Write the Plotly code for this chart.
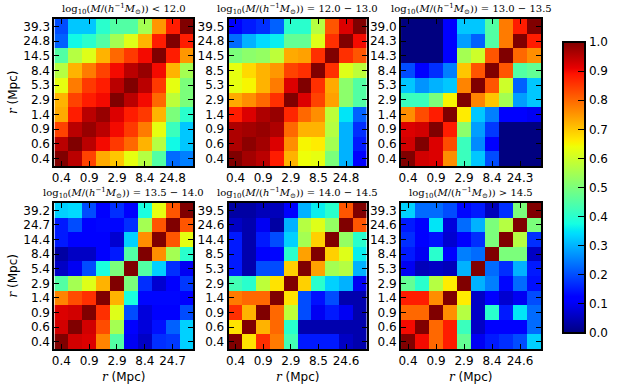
import plotly.graph_objects as go
from plotly.subplots import make_subplots

# Correlation matrices, row 0 = smallest r (bottom), column 0 = smallest r (left)
corr_lt120 = [
    [1.00, 0.95, 0.84, 0.73, 0.70, 0.63, 0.57, 0.45, 0.23, 0.25],
    [0.95, 1.00, 0.95, 0.90, 0.85, 0.80, 0.72, 0.57, 0.37, 0.32],
    [0.84, 0.95, 0.98, 0.95, 0.90, 0.85, 0.78, 0.63, 0.42, 0.32],
    [0.73, 0.88, 0.95, 0.98, 0.92, 0.88, 0.85, 0.72, 0.50, 0.40],
    [0.72, 0.84, 0.88, 0.90, 1.00, 0.95, 0.90, 0.80, 0.58, 0.50],
    [0.63, 0.78, 0.85, 0.88, 0.95, 1.00, 0.95, 0.85, 0.63, 0.50],
    [0.57, 0.72, 0.78, 0.84, 0.90, 0.95, 0.98, 0.90, 0.72, 0.55],
    [0.45, 0.57, 0.62, 0.72, 0.80, 0.85, 0.90, 1.00, 0.88, 0.75],
    [0.22, 0.37, 0.40, 0.45, 0.55, 0.62, 0.72, 0.88, 1.00, 0.88],
    [0.20, 0.32, 0.32, 0.40, 0.45, 0.45, 0.55, 0.75, 0.88, 1.00],
]
corr_120_130 = [
    [1.00, 0.97, 0.95, 0.88, 0.72, 0.64, 0.63, 0.50, 0.30, 0.12],
    [0.96, 0.99, 0.97, 0.92, 0.76, 0.65, 0.66, 0.55, 0.30, 0.15],
    [0.96, 0.97, 0.98, 0.96, 0.80, 0.72, 0.72, 0.57, 0.30, 0.17],
    [0.88, 0.92, 0.96, 0.98, 0.87, 0.80, 0.76, 0.58, 0.35, 0.22],
    [0.73, 0.76, 0.80, 0.86, 1.00, 0.92, 0.84, 0.74, 0.52, 0.45],
    [0.63, 0.65, 0.72, 0.78, 0.92, 1.00, 0.86, 0.73, 0.52, 0.45],
    [0.63, 0.68, 0.72, 0.75, 0.84, 0.86, 1.00, 0.86, 0.62, 0.58],
    [0.50, 0.52, 0.53, 0.58, 0.73, 0.74, 0.86, 1.00, 0.86, 0.82],
    [0.23, 0.30, 0.34, 0.36, 0.47, 0.47, 0.62, 0.86, 1.00, 0.90],
    [0.12, 0.15, 0.17, 0.22, 0.40, 0.40, 0.57, 0.82, 0.92, 1.00],
]
corr_130_135 = [
    [1.00, 0.93, 0.92, 0.76, 0.42, 0.32, 0.20, 0.00, 0.00, 0.00],
    [0.93, 1.00, 0.92, 0.83, 0.42, 0.26, 0.12, 0.00, 0.00, 0.00],
    [0.92, 0.93, 1.00, 0.88, 0.52, 0.28, 0.18, 0.00, 0.00, 0.00],
    [0.76, 0.83, 0.88, 1.00, 0.66, 0.32, 0.25, 0.12, 0.12, 0.10],
    [0.42, 0.42, 0.50, 0.65, 1.00, 0.77, 0.70, 0.55, 0.28, 0.32],
    [0.32, 0.27, 0.30, 0.32, 0.77, 1.00, 0.82, 0.60, 0.22, 0.32],
    [0.20, 0.12, 0.17, 0.25, 0.70, 0.82, 1.00, 0.82, 0.45, 0.47],
    [0.00, 0.00, 0.00, 0.12, 0.55, 0.60, 0.82, 1.00, 0.80, 0.76],
    [0.00, 0.00, 0.00, 0.12, 0.28, 0.22, 0.45, 0.78, 1.00, 0.88],
    [0.00, 0.00, 0.00, 0.12, 0.32, 0.32, 0.45, 0.78, 0.88, 1.00],
]
corr_135_140 = [
    [1.00, 0.93, 0.92, 0.77, 0.45, 0.10, 0.06, 0.17, 0.18, 0.33],
    [0.93, 1.00, 0.93, 0.83, 0.55, 0.11, 0.08, 0.14, 0.22, 0.33],
    [0.92, 0.93, 1.00, 0.86, 0.62, 0.20, 0.08, 0.12, 0.12, 0.20],
    [0.77, 0.83, 0.86, 1.00, 0.72, 0.38, 0.13, 0.13, 0.13, 0.12],
    [0.45, 0.55, 0.62, 0.72, 1.00, 0.50, 0.17, 0.07, 0.12, 0.18],
    [0.06, 0.10, 0.20, 0.38, 0.50, 1.00, 0.45, 0.33, 0.17, 0.10],
    [0.03, 0.06, 0.06, 0.11, 0.15, 0.45, 1.00, 0.76, 0.55, 0.40],
    [0.15, 0.12, 0.12, 0.12, 0.07, 0.33, 0.76, 1.00, 0.82, 0.63],
    [0.15, 0.20, 0.12, 0.13, 0.13, 0.17, 0.55, 0.82, 1.00, 0.82],
    [0.33, 0.34, 0.20, 0.11, 0.17, 0.12, 0.38, 0.63, 0.82, 1.00],
]
corr_140_145 = [
    [1.00, 0.67, 0.86, 0.78, 0.43, 0.15, 0.15, 0.15, 0.06, 0.04],
    [0.67, 1.00, 0.72, 0.80, 0.40, 0.04, 0.04, 0.04, 0.04, 0.04],
    [0.86, 0.72, 1.00, 0.80, 0.58, 0.20, 0.10, 0.15, 0.10, 0.04],
    [0.78, 0.80, 0.80, 1.00, 0.67, 0.20, 0.14, 0.20, 0.04, 0.04],
    [0.43, 0.40, 0.58, 0.67, 1.00, 0.69, 0.40, 0.33, 0.30, 0.10],
    [0.15, 0.04, 0.20, 0.20, 0.69, 1.00, 0.74, 0.55, 0.57, 0.30],
    [0.15, 0.04, 0.11, 0.13, 0.40, 0.74, 1.00, 0.69, 0.62, 0.36],
    [0.15, 0.04, 0.15, 0.20, 0.33, 0.55, 0.69, 1.00, 0.53, 0.40],
    [0.06, 0.04, 0.10, 0.03, 0.30, 0.57, 0.62, 0.53, 1.00, 0.82],
    [0.03, 0.03, 0.05, 0.05, 0.12, 0.30, 0.36, 0.40, 0.82, 1.00],
]
corr_gt145 = [
    [1.00, 0.90, 0.80, 0.88, 0.47, 0.10, 0.15, 0.17, 0.20, 0.33],
    [0.90, 1.00, 0.80, 0.88, 0.42, 0.06, 0.11, 0.12, 0.12, 0.23],
    [0.80, 0.80, 1.00, 0.76, 0.57, 0.06, 0.40, 0.15, 0.35, 0.23],
    [0.88, 0.88, 0.76, 1.00, 0.66, 0.06, 0.11, 0.07, 0.10, 0.20],
    [0.47, 0.40, 0.57, 0.66, 1.00, 0.30, 0.25, 0.13, 0.23, 0.14],
    [0.10, 0.05, 0.06, 0.05, 0.30, 1.00, 0.23, 0.17, 0.30, 0.15],
    [0.15, 0.10, 0.40, 0.11, 0.25, 0.23, 1.00, 0.50, 0.50, 0.06],
    [0.17, 0.12, 0.14, 0.07, 0.12, 0.17, 0.50, 1.00, 0.57, 0.17],
    [0.15, 0.11, 0.35, 0.08, 0.23, 0.30, 0.50, 0.57, 1.00, 0.50],
    [0.33, 0.23, 0.23, 0.20, 0.13, 0.15, 0.05, 0.17, 0.50, 1.00],
]

# tick labels (r in Mpc) for each panel
r_lt120 = ["0.4", "0.6", "0.9", "1.4", "2.9", "5.3", "8.4", "14.5", "24.8", "39.3"]
r_120_130 = ["0.4", "0.6", "0.9", "1.4", "2.9", "5.3", "8.5", "14.5", "24.8", "39.5"]
r_130_135 = ["0.4", "0.6", "0.9", "1.4", "2.9", "5.3", "8.4", "14.3", "24.3", "39.0"]
r_135_140 = ["0.4", "0.6", "0.9", "1.4", "2.9", "5.4", "8.4", "14.4", "24.7", "39.2"]
r_140_145 = ["0.4", "0.6", "0.9", "1.4", "2.9", "5.3", "8.5", "14.4", "24.6", "39.5"]
r_gt145 = ["0.4", "0.6", "0.9", "1.4", "2.9", "5.3", "8.4", "14.3", "24.6", "39.3"]

mass_bins = ["< 12.0", "= 12.0 \u2212 13.0", "= 13.0 \u2212 13.5",
             "= 13.5 \u2212 14.0", "= 14.0 \u2212 14.5", "> 14.5"]

matrices = [corr_lt120, corr_120_130, corr_130_135, corr_135_140, corr_140_145, corr_gt145]
tick_sets = [r_lt120, r_120_130, r_130_135, r_135_140, r_140_145, r_gt145]

# matplotlib "jet"
jet = [
    [0.0, "rgb(0,0,128)"], [0.11, "rgb(0,0,255)"], [0.125, "rgb(0,0,255)"],
    [0.34, "rgb(0,219,255)"], [0.35, "rgb(0,229,247)"], [0.375, "rgb(21,255,226)"],
    [0.64, "rgb(238,255,8)"], [0.65, "rgb(247,246,0)"], [0.66, "rgb(255,236,0)"],
    [0.89, "rgb(255,19,0)"], [0.91, "rgb(232,0,0)"], [1.0, "rgb(128,0,0)"],
]

W, H = 628, 390
col_px = [(54, 200), (237, 382), (418, 565)]
row_px = [(19, 166), (203, 349)]

fig = make_subplots(rows=2, cols=3)
idx = list(range(10))
r_title = "<span style=\"font-family:'DejaVu Serif'\"><i>r</i></span> (Mpc)"

for k in range(6):
    row, col = k // 3 + 1, k % 3 + 1
    fig.add_trace(go.Heatmap(
        z=matrices[k], x=idx, y=idx, colorscale=jet, zmin=0, zmax=1,
        showscale=(k == 0),
        colorbar=dict(
            x=578 / W, xanchor="left", thickness=22, thicknessmode="pixels",
            len=311 / H, y=1 - 187.5 / H, yanchor="middle",
            outlinewidth=2, outlinecolor="black",
            tickvals=[i / 10 for i in range(11)], tickformat=".1f",
            ticks="inside", ticklen=8, tickcolor="black",
            tickfont=dict(family="DejaVu Sans", size=12, color="black"),
        ),
    ), row=row, col=col)

    ax = "" if k == 0 else str(k + 1)
    x0, x1 = col_px[col - 1]
    y0, y1 = row_px[row - 1]
    labels = tick_sets[k]
    fig.layout["xaxis" + ax].update(
        domain=[x0 / W, x1 / W], range=[-0.5, 9.5],
        tickvals=[0, 2, 4, 6, 8], ticktext=[labels[i] for i in [0, 2, 4, 6, 8]],
        ticks="inside", ticklen=5, tickcolor="black",
        showline=True, linewidth=2, linecolor="black", mirror="ticks",
        showgrid=False, zeroline=False,
        tickfont=dict(family="DejaVu Sans", size=12, color="black"),
    )
    fig.layout["yaxis" + ax].update(
        domain=[1 - y1 / H, 1 - y0 / H], range=[-0.5, 9.5],
        tickvals=idx, ticktext=labels,
        ticks="inside", ticklen=5, tickcolor="black",
        showline=True, linewidth=2, linecolor="black", mirror="ticks",
        showgrid=False, zeroline=False,
        tickfont=dict(family="DejaVu Sans", size=12, color="black"),
    )
    title = ("log<sub>10</sub>(<i>M</i>/(<i>h</i><sup>\u22121</sup><i>M</i><sub>\u2299</sub>)) "
             + mass_bins[k])
    fig.add_annotation(
        text=title, x=(x0 + x1) / 2 / W, y=1 - (y0 - 1) / H,
        xref="paper", yref="paper", xanchor="center", yanchor="bottom",
        showarrow=False, font=dict(family="DejaVu Serif", size=10, color="black"),
    )

# axis titles
for xc in [(54 + 200) / 2, (237 + 382) / 2, (418 + 565) / 2]:
    fig.add_annotation(
        text=r_title, x=xc / W, y=1 - 377 / H, xanchor="center", yanchor="middle",
        xref="paper", yref="paper", showarrow=False,
        font=dict(family="DejaVu Sans", size=12, color="black"),
    )
for yc in [(19 + 166) / 2, (203 + 349) / 2]:
    fig.add_annotation(
        text=r_title, x=10 / W, y=1 - yc / H, textangle=-90,
        xanchor="center", yanchor="middle",
        xref="paper", yref="paper", showarrow=False,
        font=dict(family="DejaVu Sans", size=12, color="black"),
    )

fig.update_layout(
    width=W, height=H, margin=dict(l=0, r=0, t=0, b=0),
    paper_bgcolor="white", plot_bgcolor="white", showlegend=False,
)

fig.write_html("out.html", config={"displayModeBar": False},
               post_script="document.body.style.margin='0';")
